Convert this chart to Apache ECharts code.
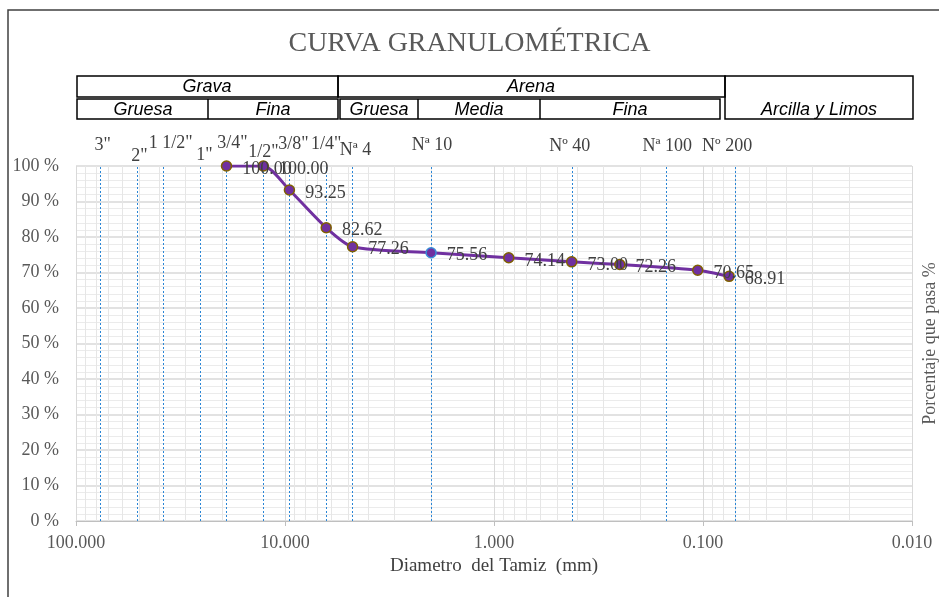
<!DOCTYPE html>
<html>
<head>
<meta charset="utf-8">
<script src="https://cdn.jsdelivr.net/npm/echarts@6/dist/echarts.min.js"></script>
<style>
html,body{margin:0;padding:0;background:#fff;overflow:hidden;}
#c{width:939px;height:597px;}
</style>
</head>
<body>
<div id="c"></div>
<script>
// ---- data ----
const sieveSizes = [19.05, 12.7, 9.525, 6.35, 4.75, 2.0, 0.85, 0.425, 0.25, 0.106, 0.075];
const percentPassing = [100.00, 100.00, 93.25, 82.62, 77.26, 75.56, 74.14, 73.00, 72.26, 70.65, 68.91];
const refSieveNames = ['3"', '2"', '1 1/2"', '1"', '3/4"', '1/2"', '3/8"', '1/4"', 'Nª 4', 'Nª 10', 'Nº 40', 'Nª 100', 'Nº 200'];
const refSieveSizes = [76.2, 50.8, 38.1, 25.4, 19.05, 12.7, 9.525, 6.35, 4.75, 2.0, 0.425, 0.15, 0.075];
const xTickLabels = ['0.010', '0.100', '1.000', '10.000', '100.000'];
const yTickLabels = ['0 %', '10 %', '20 %', '30 %', '40 %', '50 %', '60 %', '70 %', '80 %', '90 %', '100 %'];

// ---- layout/style (not data) ----
const refLabelShift = [[2,145],[2,156],[7,143],[4,155],[6,143],[0,152],[4,144],[0,144],[3,150],[1,145],[-2,146],[1,146],[-2,146]];
const serif = "'Liberation Serif','Times New Roman',serif";
const sans = "'Liberation Sans',Arial,sans-serif";

const minorGrid = [];
[0.01, 0.1, 1, 10].forEach(d => { for (let m = 2; m <= 9; m++) minorGrid.push({ xAxis: +(d * m).toPrecision(3) }); });

const seriesData = sieveSizes.map((s, i) => {
  const item = { value: [s, percentPassing[i]] };
  if (i === 5) item.itemStyle = { borderColor: '#3b8ed8' };
  return item;
});

const chart = echarts.init(document.getElementById('c'), null, { renderer: 'canvas' });

const option = {
  animation: false,
  backgroundColor: '#fff',
  title: {
    text: 'CURVA GRANULOMÉTRICA',
    left: 'center', top: 25,
    textStyle: { fontFamily: serif, fontSize: 28, fontWeight: 'normal', color: '#595959' }
  },
  grid: { left: 76, right: 27, top: 166, bottom: 76, containLabel: false, outerBoundsMode: 'none' },
  xAxis: {
    type: 'log', logBase: 10, min: 0.01, max: 100, inverse: true,
    name: 'Diametro  del Tamiz  (mm)', nameLocation: 'middle', nameGap: 32,
    nameTextStyle: { fontFamily: serif, fontSize: 19, color: '#404040' },
    axisLine: { show: true, lineStyle: { color: '#bfbfbf', width: 1 } },
    axisTick: { show: true, length: 5, lineStyle: { color: '#bfbfbf' } },
    axisLabel: {
      margin: 13, fontFamily: serif, fontSize: 18, color: '#595959',
      formatter: v => xTickLabels[Math.round(Math.log10(v)) + 2]
    },
    splitLine: { show: true, lineStyle: { color: '#d9d9d9', width: 1 } }
  },
  yAxis: [{
    type: 'value', min: 0, max: 100, interval: 10,
    axisLine: { show: false }, axisTick: { show: false },
    axisLabel: { margin: 17, fontFamily: serif, fontSize: 18, color: '#595959', formatter: v => yTickLabels[Math.round(v / 10)] },
    splitLine: { show: true, lineStyle: { color: '#d9d9d9', width: 1.5 } },
    minorTick: { show: false, splitNumber: 5 },
    minorSplitLine: { show: true, lineStyle: { color: '#ebebeb', width: 1 } }
  }, {
    type: 'value', min: 0, max: 100, position: 'right',
    name: 'Porcentaje que pasa %', nameLocation: 'middle', nameGap: 9, nameRotate: 90,
    nameTextStyle: { fontFamily: serif, fontSize: 18, color: '#595959' },
    axisLine: { show: false }, axisTick: { show: false }, axisLabel: { show: false },
    splitLine: { show: false }
  }],
  series: [
    {
      type: 'line', data: [], silent: true, z: 1,
      markLine: {
        silent: true, symbol: 'none', animation: false,
        lineStyle: { color: '#e6e6e6', type: 'solid', width: 1 },
        label: { show: false },
        data: minorGrid
      }
    },
    {
      type: 'line', data: [], silent: true, z: 3,
      markLine: {
        silent: true, symbol: 'none', animation: false,
        lineStyle: { color: '#2a86d6', type: [2, 2], width: 1 },
        label: { show: false },
        data: refSieveSizes.map(v => ({ xAxis: v }))
      }
    },
    {
      type: 'line', data: seriesData, smooth: 0.25,
      symbol: 'circle', symbolSize: 10,
      lineStyle: { color: '#7030a0', width: 3 },
      itemStyle: { color: '#7030a0', borderColor: '#7f6000', borderWidth: 1.5 },
      label: {
        show: true, position: 'right', distance: 10, offset: [0, 3],
        fontFamily: serif, fontSize: 18, color: '#404040',
        formatter: p => p.value[1].toFixed(2)
      },
      z: 5
    }
  ]
};
chart.setOption(option);

// header table and sieve labels
const g = [];
g.push({ type: 'rect', shape: { x: 8, y: 10, width: 960, height: 620 }, style: { fill: null, stroke: '#404040', lineWidth: 1.5 }, silent: true });
const boxes = [
  [77, 76, 261, 21], [338, 76, 387, 21], [725, 76, 188, 43],
  [77, 99, 261, 20], [340, 99, 380, 20]
];
boxes.forEach(b => g.push({ type: 'rect', shape: { x: b[0], y: b[1], width: b[2], height: b[3] }, style: { fill: null, stroke: '#000', lineWidth: 1.5 }, silent: true }));
[[208, 99, 119], [418, 99, 119], [540, 99, 119]].forEach(l => g.push({ type: 'line', shape: { x1: l[0], y1: l[1], x2: l[0], y2: l[2] }, style: { stroke: '#000', lineWidth: 1.5 }, silent: true }));
const headerTexts = [
  ['Grava', 207, 87], ['Arena', 531, 87],
  ['Gruesa', 143, 110], ['Fina', 273, 110], ['Gruesa', 379, 110], ['Media', 479, 110], ['Fina', 630, 110], ['Arcilla y Limos', 819, 110]
];
headerTexts.forEach(t => g.push({ type: 'text', x: t[1], y: t[2], silent: true,
  style: { text: t[0], fontFamily: sans, fontStyle: 'italic', fontSize: 18, fill: '#000', align: 'center', verticalAlign: 'middle' } }));

refSieveSizes.forEach((s, i) => {
  const px = chart.convertToPixel({ xAxisIndex: 0 }, s);
  g.push({ type: 'text', x: px + refLabelShift[i][0], y: refLabelShift[i][1], silent: true,
    style: { text: refSieveNames[i], fontFamily: serif, fontSize: 18, fill: '#404040', align: 'center', verticalAlign: 'middle' } });
});
chart.setOption({ graphic: g });
</script>
</body>
</html>
